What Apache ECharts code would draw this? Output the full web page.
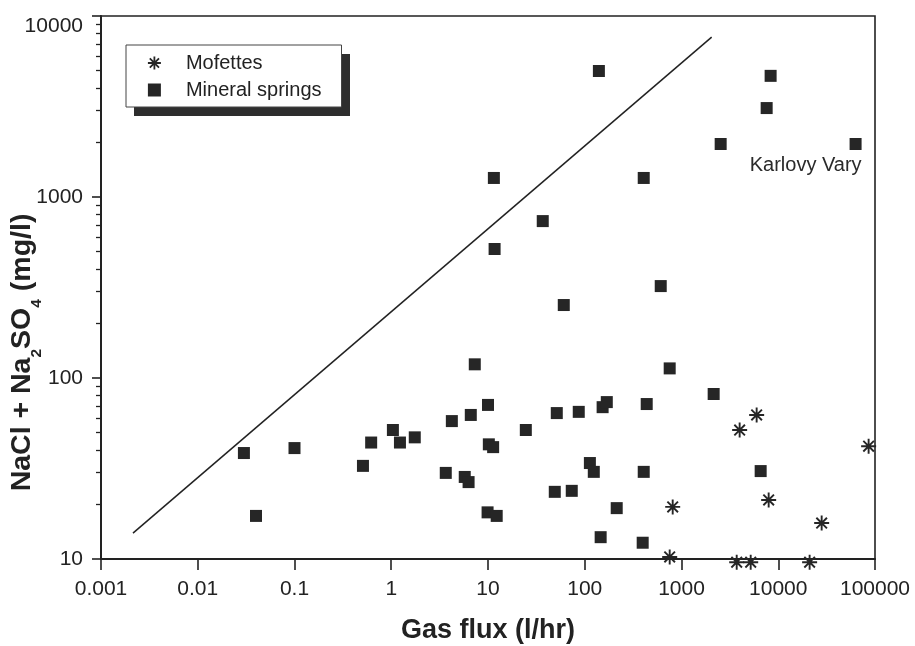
<!DOCTYPE html>
<html>
<head>
<meta charset="utf-8">
<script src="https://cdn.jsdelivr.net/npm/echarts@6.0.0/dist/echarts.min.js"></script>
<style>
html,body{margin:0;padding:0;background:#fff;}
#chart{width:915px;height:646px;}
</style>
</head>
<body>
<div id="chart"></div>
<script>
// ---- data ----
const springsFlux = [0.030, 0.040, 0.10, 0.51, 0.62, 1.04, 1.23, 1.75, 3.66, 4.23, 5.75, 6.3, 6.64, 7.3, 10.0, 10.2, 11.3, 9.9, 12.3, 24.6, 49, 51.4, 73.4, 86.7, 113, 124, 146, 153, 169, 214, 397, 407, 437, 755, 2150, 6580, 60.7, 610, 36.8, 11.7, 11.5, 407, 140, 2540, 7590, 8340, 63000];
const springsSalt = [38.5, 17.3, 41, 32.7, 44, 51.6, 44, 47, 29.9, 57.8, 28.4, 26.6, 62.5, 119, 71, 43, 41.5, 18.1, 17.3, 51.6, 23.5, 64, 23.8, 65, 33.9, 30.3, 13.2, 69, 73.6, 19.1, 12.3, 30.3, 71.8, 113, 81.6, 30.6, 253, 322, 736, 516, 1274, 1274, 4966, 1963, 3100, 4670, 1963];
const mofettesFlux = [755, 811, 3720, 3990, 5190, 5980, 7960, 21100, 28100, 85900];
const mofettesSalt = [10.26, 19.4, 9.6, 51.6, 9.6, 62.5, 21.2, 9.6, 15.8, 42];
const lineFlux = [0.00214, 2050];
const lineSalt = [13.9, 7650];
const xTickLabels = ['0.001', '0.01', '0.1', '1', '10', '100', '1000', '10000', '100000'];
const yTickLabels = ['10', '100', '1000', '10000'];
const seriesNames = ['Mofettes', 'Mineral springs'];
const annotationText = 'Karlovy Vary';
const annotationIndex = springsFlux.length - 1;

const FONT = 'Liberation Sans';
const INK = '#222';
const MARK = '#262626';
const ASTERISK = 'path://M0 -10 L0 10 M-10 0 L10 0 M-7.07 -7.07 L7.07 7.07 M-7.07 7.07 L7.07 -7.07';

const springsData = springsFlux.map((x, i) => {
  const item = { value: [x, springsSalt[i]] };
  if (i === annotationIndex) {
    item.label = {
      show: true, formatter: annotationText, position: 'bottom', align: 'right',
      distance: 6, offset: [6, 0], fontFamily: FONT, fontSize: 20, color: '#2a2a2a'
    };
  }
  return item;
});
const mofettesData = mofettesFlux.map((x, i) => [x, mofettesSalt[i]]);
const lineData = lineFlux.map((x, i) => [x, lineSalt[i]]);

const chart = echarts.init(document.getElementById('chart'), null, { renderer: 'canvas' });
chart.setOption({
  animation: false,
  backgroundColor: '#fff',
  grid: {
    left: 101, right: 40, top: 16, bottom: 87,
    show: true, borderColor: INK, borderWidth: 1.6, backgroundColor: 'transparent',
    outerBoundsMode: 'none'
  },
  graphic: [
    { type: 'rect', z: 1, shape: { x: 134, y: 54, width: 216, height: 62 }, style: { fill: '#2e2e2e' }, silent: true }
  ],
  legend: {
    left: 126, top: 45, orient: 'vertical', z: 10,
    data: [
      { name: seriesNames[0], icon: ASTERISK, itemStyle: { color: 'transparent', borderColor: MARK, borderWidth: 1.8 } },
      { name: seriesNames[1], icon: 'rect', itemStyle: { color: MARK, borderWidth: 0, opacity: 1 } }
    ],
    itemWidth: 13, itemHeight: 13, itemGap: 7,
    padding: [8, 20, 7, 21],
    backgroundColor: '#fff', borderColor: '#444', borderWidth: 1, borderRadius: 0,
    selectedMode: false,
    textStyle: { fontFamily: FONT, fontSize: 20, color: '#222', padding: [0, 0, 0, 20] }
  },
  xAxis: {
    type: 'log', logBase: 10, min: 0.001, max: 100000,
    name: 'Gas flux (l/hr)', nameLocation: 'middle', nameGap: 58, nameMoveOverlap: false,
    nameTextStyle: { fontFamily: FONT, fontSize: 27, fontWeight: 'bold', color: '#222' },
    axisLine: { show: true, lineStyle: { color: INK, width: 2 } },
    axisTick: { show: true, inside: false, length: 11, lineStyle: { color: INK, width: 1.6 } },
    minorTick: { show: false },
    splitLine: { show: false },
    axisLabel: {
      margin: 20, fontFamily: FONT, fontSize: 21, color: '#222',
      formatter: v => xTickLabels[Math.round(Math.log10(v)) + 3]
    }
  },
  yAxis: {
    type: 'log', logBase: 10, min: 10, max: 10000,
    name: 'NaCl + Na{sub|2}SO{sub|4} (mg/l)', nameLocation: 'middle', nameGap: 56, nameRotate: 90,
    nameMoveOverlap: false,
    nameTextStyle: {
      fontFamily: FONT, fontSize: 28.5, fontWeight: 'bold', color: '#222', lineHeight: 28,
      padding: [0, 130, 0, 0],
      rich: {
        sub: { fontFamily: FONT, fontSize: 15.5, fontWeight: 'bold', color: '#222', lineHeight: 45, verticalAlign: 'bottom' }
      }
    },
    axisLine: { show: true, lineStyle: { color: INK, width: 2 } },
    axisTick: { show: true, inside: false, length: 9, lineStyle: { color: INK, width: 1.6 } },
    minorTick: { show: true, splitNumber: 9, length: 5, lineStyle: { color: INK, width: 1.3 } },
    splitLine: { show: false },
    minorSplitLine: { show: false },
    axisLabel: {
      margin: 18, fontFamily: FONT, fontSize: 21, color: '#222',
      formatter: v => {
        const t = yTickLabels[Math.round(Math.log10(v)) - 1];
        return Math.round(Math.log10(v)) === 4 ? '{top|' + t + '}' : t;
      },
      rich: { top: { fontFamily: FONT, fontSize: 21, color: '#222', padding: [20, 0, 0, 0] } }
    }
  },
  series: [
    {
      name: seriesNames[0], type: 'scatter', data: mofettesData, clip: false,
      symbol: ASTERISK, symbolSize: 15,
      itemStyle: { color: 'transparent', borderColor: MARK, borderWidth: 1.9, opacity: 1 },
      z: 3
    },
    {
      name: seriesNames[1], type: 'scatter', data: springsData, clip: false,
      symbol: 'rect', symbolSize: 12,
      itemStyle: { color: MARK, borderWidth: 0, opacity: 1 },
      z: 3
    },
    {
      name: 'boundary', type: 'line', data: lineData, showSymbol: false, symbol: 'none',
      lineStyle: { color: INK, width: 1.5 }, silent: true, z: 2
    }
  ]
});
</script>
</body>
</html>
